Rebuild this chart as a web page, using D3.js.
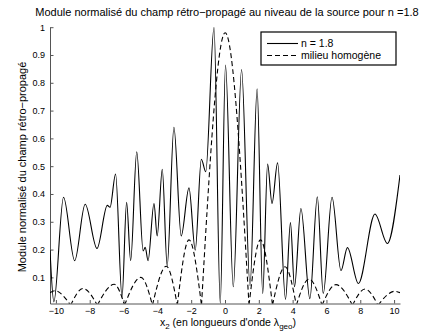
<!DOCTYPE html>
<html>
<head>
<meta charset="utf-8">
<script src="https://cdn.jsdelivr.net/npm/d3@7"></script>
<style>
  body { margin: 0; background: #fff; }
  svg { display: block; font-family: "Liberation Sans", Arial, Helvetica, sans-serif; }
</style>
</head>
<body>
<svg id="chart" width="441" height="333"></svg>
<script>
// champ rétro-propagé, n = 1.8 (extrema)
const solidX = [-10.35, -10.12, -9.55, -8.89, -8.27, -7.57, -6.96, -6.80, -6.47, -6.09, -5.82, -5.58, -5.22,
  -4.84, -4.72, -4.55, -4.20, -4.01, -3.71, -3.42, -3.02, -2.59, -2.13, -1.76, -1.40, -1.14, -0.65, -0.28,
  0.03, 0.49, 0.98, 1.48, 1.90, 2.23, 2.52, 2.78, 3.11, 3.58, 3.87, 4.11, 4.49, 5.02, 5.46, 5.81, 6.33,
  6.86, 7.24, 7.89, 8.87, 9.60, 10.35];
const solidY = [0.198, 0.012, 0.388, 0.16, 0.363, 0.204, 0.359, 0.352, 0.472, 0.028, 0.37, 0.16, 0.552,
  0.195, 0.208, 0.16, 0.366, 0.249, 0.489, 0.141, 0.64, 0.249, 0.422, 0.198, 0.525, 0.48, 1.0, 0.006,
  0.864, 0.066, 0.848, 0.07, 0.778, 0.042, 0.508, 0.366, 0.512, 0.021, 0.297, 0.066, 0.348, 0.023, 0.39, 0.042, 0.388,
  0.124, 0.207, 0.078, 0.328, 0.222, 0.468];

// milieu homogène (lobes : zéros et maxima)
const homoX = [-10.35, -10.07, -9.13, -8.40, -7.55, -6.55, -5.94, -4.97, -4.29, -3.47, -2.82, -2.13, -1.39,
  0.01, 1.42, 2.10, 2.81, 3.55, 4.22, 4.97, 5.74, 6.56, 7.54, 8.28, 9.05, 10.05, 10.35];
const homoY = [0.045, 0.052, 0, 0.06, 0, 0.075, 0, 0.1, 0, 0.14, 0, 0.235, 0,
  0.98, 0, 0.235, 0, 0.138, 0, 0.094, 0, 0.074, 0, 0.058, 0, 0.05, 0.045];

const xTicks = [-10, -8, -6, -4, -2, 0, 2, 4, 6, 8, 10];
const yTicks = [0.1, 0.2, 0.3, 0.4, 0.5, 0.6, 0.7, 0.8, 0.9, 1];
const legendLabels = ["n = 1.8", "milieu homogène"];

// SVG et marges
const svg = d3.select("#chart");
const margin = { top: 27.2, right: 41, bottom: 29.5, left: 50 };
const width = +svg.attr("width") - margin.left - margin.right;
const height = +svg.attr("height") - margin.top - margin.bottom;
const g = svg.append("g").attr("transform", `translate(${margin.left},${margin.top})`);

const x = d3.scaleLinear().domain([-10.35, 10.35]).range([0, width]);
const y = d3.scaleLinear().domain([0.006, 1]).range([height, 0]);

// axes (graduations vers l'intérieur, pas de boîte)
const xAxis = g.append("g")
  .attr("transform", `translate(0,${height})`)
  .call(d3.axisBottom(x).tickValues(xTicks).tickSizeInner(-3.5).tickSizeOuter(0).tickPadding(4));
const yAxis = g.append("g")
  .call(d3.axisLeft(y).tickValues(yTicks).tickSizeInner(-3.5).tickSizeOuter(0).tickPadding(5)
    .tickFormat(d => d === 1 ? "1" : d3.format(".1f")(d)));

[xAxis, yAxis].forEach(a => {
  a.select(".domain").attr("stroke", "#555").attr("stroke-width", 1);
  a.selectAll(".tick line").attr("stroke", "#555");
  a.selectAll(".tick text").attr("fill", "#000").style("font-size", "9px")
    .style("font-family", '"Liberation Sans", Arial, sans-serif');
});

// clip
g.append("clipPath").attr("id", "clip")
  .append("rect").attr("width", width).attr("height", height);

// courbe n = 1.8
const line = d3.line().x(d => x(d[0])).y(d => y(d[1])).curve(d3.curveMonotoneX);
const solidData = solidX.map((v, i) => [v, solidY[i]]);
g.append("path")
  .attr("clip-path", "url(#clip)")
  .attr("d", line(solidData))
  .attr("fill", "none")
  .attr("stroke", "#000")
  .attr("stroke-width", 1.1);

// milieu homogène : un morceau par lobe pour garder les zéros pointus
const lobes = [];
let cur = [];
homoX.forEach((v, i) => {
  cur.push([v, homoY[i]]);
  if (homoY[i] === 0 && cur.length > 1) { lobes.push(cur); cur = [[v, 0]]; }
});
if (cur.length > 1) lobes.push(cur);

g.append("path")
  .attr("clip-path", "url(#clip)")
  .attr("d", lobes.map(l => line(l)).join(""))
  .attr("fill", "none")
  .attr("stroke", "#000")
  .attr("stroke-width", 1.1)
  .attr("stroke-dasharray", "5,3");

// titre
svg.append("text")
  .attr("x", 227).attr("y", 16)
  .attr("text-anchor", "middle")
  .style("font-size", "11px")
  .text("Module normalisé du champ rétro−propagé au niveau de la source pour n =1.8");

// label Y
svg.append("text")
  .attr("transform", "translate(26,167) rotate(-90)")
  .attr("text-anchor", "middle")
  .style("font-size", "11px")
  .text("Module normalisé du champ rétro−propagé");

// label X avec indices
const xl = svg.append("text")
  .attr("x", 228).attr("y", 325.5)
  .attr("text-anchor", "middle")
  .style("font-size", "10.5px");
xl.append("tspan").text("x");
xl.append("tspan").attr("dy", 3).style("font-size", "8px").text("2");
xl.append("tspan").attr("dy", -3).text(" (en longueurs d'onde λ");
xl.append("tspan").attr("dy", 3).style("font-size", "8px").text("geo");
xl.append("tspan").attr("dy", -3).text(")");

// légende
const legend = svg.append("g").attr("transform", "translate(261,32)");
legend.append("rect")
  .attr("width", 135).attr("height", 33)
  .attr("fill", "#fff").attr("stroke", "#000").attr("stroke-width", 1.2);
legendLabels.forEach((lab, i) => {
  const ly = 11.5 + i * 12;
  legend.append("line")
    .attr("x1", 6).attr("x2", 37).attr("y1", ly).attr("y2", ly)
    .attr("stroke", "#000").attr("stroke-width", 1.1)
    .attr("stroke-dasharray", i === 1 ? "5,3" : null);
  legend.append("text")
    .attr("x", 40).attr("y", ly + 3.8)
    .style("font-size", "10.5px")
    .text(lab);
});
</script>
</body>
</html>
